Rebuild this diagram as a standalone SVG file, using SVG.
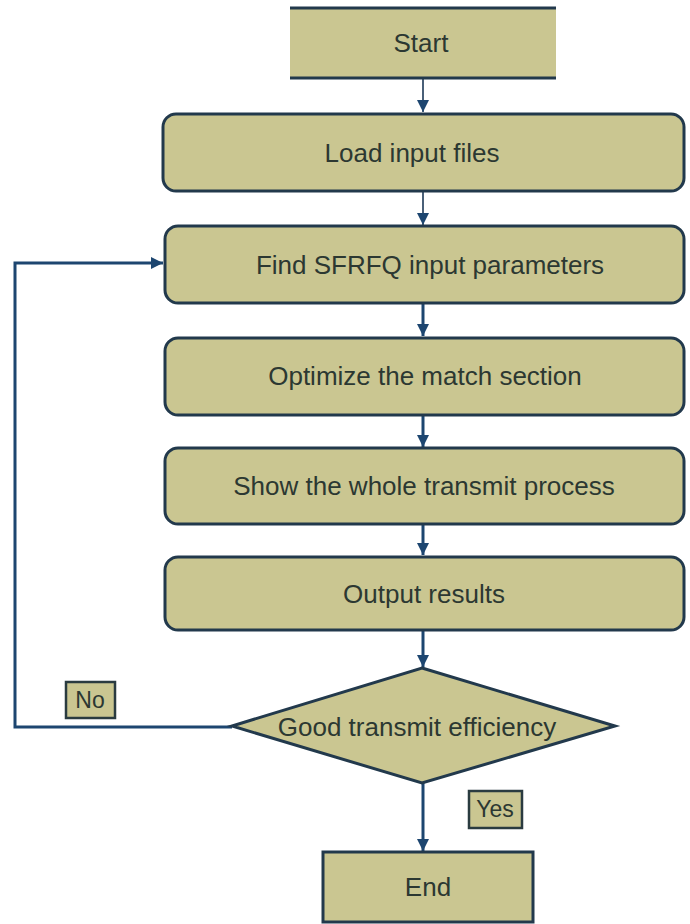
<svg xmlns="http://www.w3.org/2000/svg" width="690" height="924" viewBox="0 0 690 924">
  <style>
    .box { fill: #cac691; stroke: #22394c; stroke-width: 3; }
    .fillonly { fill: #cac691; stroke: none; }
    .edge { stroke: #22394c; stroke-width: 3; }
    .lbl { fill: #cac691; stroke: #2a3b40; stroke-width: 2.5; }
    .txt { font-family: "Liberation Sans", Arial, sans-serif; font-size: 26px; fill: #2c3832; text-anchor: middle; dominant-baseline: central; }
    .small { font-size: 23px; }
    .flow { fill: none; stroke: #1d4670; stroke-width: 3; }
    .thin { stroke: #4a6078; stroke-width: 2; }
  </style>
  <defs>
    <marker id="arrow" viewBox="0 0 10 10" refX="10" refY="5" markerWidth="4" markerHeight="4" orient="auto" markerUnits="strokeWidth">
      <path d="M0,0 L10,5 L0,10 z" fill="#1d4670"/>
    </marker>
    <marker id="arrowThin" viewBox="0 0 10 10" refX="10" refY="5" markerWidth="6" markerHeight="6" orient="auto" markerUnits="strokeWidth">
      <path d="M0,0 L10,5 L0,10 z" fill="#1d4670"/>
    </marker>
  </defs>

  <rect width="690" height="924" fill="#ffffff"/>

  <g id="connectors">
    <line class="flow thin" x1="423" y1="79" x2="423" y2="112" marker-end="url(#arrowThin)"/>
    <line class="flow thin" x1="423" y1="192" x2="423" y2="225" marker-end="url(#arrowThin)"/>
    <line class="flow" x1="423" y1="303" x2="423" y2="336" marker-end="url(#arrow)"/>
    <line class="flow" x1="423" y1="415" x2="423" y2="447" marker-end="url(#arrow)"/>
    <line class="flow" x1="423" y1="525" x2="423" y2="555" marker-end="url(#arrow)"/>
    <line class="flow" x1="423" y1="630" x2="423" y2="667" marker-end="url(#arrow)"/>
    <line class="flow" x1="423" y1="783" x2="423" y2="851" marker-end="url(#arrow)"/>
    <polyline class="flow" points="232,727 15,727 15,263 163,263" marker-end="url(#arrow)"/>
  </g>

  <!-- start block: only its top and bottom edges are stroked -->
  <g id="start">
    <rect class="fillonly" x="290" y="8" width="266" height="70"/>
    <line class="edge" x1="290" y1="8" x2="556" y2="8"/>
    <line class="edge" x1="290" y1="78" x2="556" y2="78"/>
    <text class="txt" x="421" y="43">Start</text>
  </g>

  <g id="load">
    <rect class="box" x="163" y="114" width="521" height="77" rx="13"/>
    <text class="txt" x="412" y="153">Load input files</text>
  </g>

  <g id="find">
    <rect class="box" x="165" y="226" width="519" height="77" rx="13"/>
    <text class="txt" x="430" y="265">Find SFRFQ input parameters</text>
  </g>

  <g id="optimize">
    <rect class="box" x="165" y="338" width="519" height="77" rx="13"/>
    <text class="txt" x="425" y="376">Optimize the match section</text>
  </g>

  <g id="show">
    <rect class="box" x="165" y="448" width="519" height="76" rx="13"/>
    <text class="txt" x="424" y="486">Show the whole transmit process</text>
  </g>

  <g id="output">
    <rect class="box" x="165" y="557" width="519" height="73" rx="13"/>
    <text class="txt" x="424" y="594">Output results</text>
  </g>

  <g id="decision">
    <polygon class="box" points="422,668 615,726 422,783 232,726"/>
    <text class="txt" x="417" y="727">Good transmit efficiency</text>
  </g>

  <g id="label-no">
    <rect class="lbl" x="66" y="682" width="49" height="36"/>
    <text class="txt small" x="90" y="700">No</text>
  </g>

  <g id="label-yes">
    <rect class="lbl" x="469" y="791" width="53" height="37"/>
    <text class="txt small" x="495" y="809">Yes</text>
  </g>

  <g id="end">
    <rect class="box" x="323" y="852" width="210" height="70"/>
    <text class="txt" x="428" y="887">End</text>
  </g>
</svg>
